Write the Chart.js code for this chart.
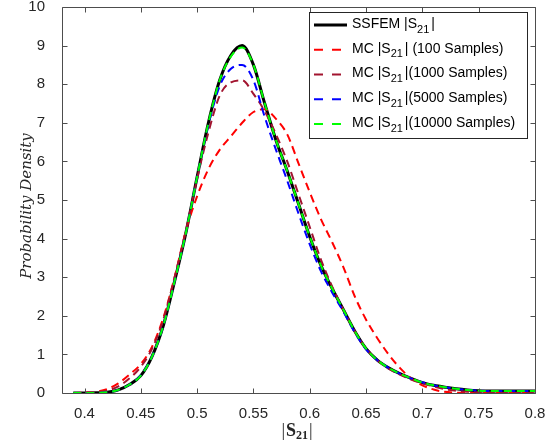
<!DOCTYPE html>
<html>
<head>
<meta charset="utf-8">
<script src="https://cdn.jsdelivr.net/npm/chart.js@4.4.1/dist/chart.umd.min.js"></script>
<style>
  html, body { margin: 0; padding: 0; background: #fff; }
  canvas { display: block; }
</style>
</head>
<body>
<canvas id="pdfChart" width="556" height="443"></canvas>
<script>
// |S21| sample points shared by every curve
const absS21 = [
  0.39, 0.40, 0.41, 0.42, 0.43, 0.44, 0.45, 0.46, 0.47, 0.48,
  0.49, 0.50, 0.51, 0.52, 0.53, 0.54, 0.55, 0.56, 0.57, 0.58,
  0.59, 0.60, 0.61, 0.62, 0.63, 0.64, 0.65, 0.66, 0.67, 0.68,
  0.69, 0.70, 0.71, 0.72, 0.73, 0.74, 0.75, 0.76, 0.77, 0.78,
  0.79, 0.80
];

const ssfem = [
  0, 0, 0.005, 0.02, 0.08, 0.22, 0.45, 0.95, 1.75, 2.9,
  4.15, 5.6, 7.0, 8.1, 8.75, 9.0, 8.5, 7.5, 6.55, 5.75,
  4.9, 4.05, 3.3, 2.7, 2.15, 1.6, 1.15, 0.85, 0.65, 0.5,
  0.38, 0.27, 0.2, 0.15, 0.11, 0.08, 0.06, 0.05, 0.05, 0.05,
  0.05, 0.05
];
const mc100 = [
  0, 0.01, 0.03, 0.1, 0.25, 0.48, 0.75, 1.2, 1.95, 3.0,
  4.2, 5.1, 5.8, 6.3, 6.65, 7.0, 7.28, 7.35, 7.1, 6.7,
  5.95, 5.2, 4.5, 3.9, 3.25, 2.5, 1.9, 1.42, 1.0, 0.65,
  0.38, 0.2, 0.09, 0.03, 0.01, 0.005, 0, 0, 0, 0,
  0, 0
];
const mc1000 = [
  0, 0.005, 0.02, 0.06, 0.17, 0.38, 0.68, 1.15, 1.9, 3.0,
  4.2, 5.55, 6.75, 7.7, 8.05, 8.1, 7.75, 7.3, 6.7, 6.0,
  5.15, 4.3, 3.45, 2.75, 2.15, 1.6, 1.15, 0.85, 0.63, 0.48,
  0.35, 0.25, 0.17, 0.1, 0.06, 0.03, 0.02, 0.01, 0, 0,
  0, 0
];
const mc5000 = [
  0, 0, 0.005, 0.02, 0.08, 0.22, 0.46, 0.95, 1.75, 2.9,
  4.15, 5.6, 6.95, 7.95, 8.4, 8.5, 8.1, 7.15, 6.3, 5.5,
  4.65, 3.85, 3.15, 2.6, 2.1, 1.57, 1.13, 0.85, 0.65, 0.5,
  0.38, 0.28, 0.2, 0.15, 0.11, 0.08, 0.06, 0.05, 0.05, 0.05,
  0.05, 0.05
];
const mc10000 = [
  0, 0, 0.005, 0.02, 0.08, 0.22, 0.45, 0.95, 1.75, 2.9,
  4.15, 5.6, 7.0, 8.1, 8.72, 8.95, 8.5, 7.5, 6.55, 5.75,
  4.9, 4.05, 3.3, 2.7, 2.15, 1.6, 1.15, 0.85, 0.65, 0.5,
  0.38, 0.27, 0.2, 0.15, 0.11, 0.08, 0.06, 0.05, 0.05, 0.05,
  0.05, 0.05
];

const seriesNames = [
  'SSFEM |S_{21}|',
  'MC |S_{21}| (100 Samples)',
  'MC |S_{21}|(1000 Samples)',
  'MC |S_{21}|(5000 Samples)',
  'MC |S_{21}|(10000 Samples)'
];
const xTicks = [0.4, 0.45, 0.5, 0.55, 0.6, 0.65, 0.7, 0.75, 0.8];
const yTicks = [0, 1, 2, 3, 4, 5, 6, 7, 8, 9, 10];

const axisColor = '#4d4d4d';
const textColor = '#262626';

function toPoints(ys) {
    return absS21.map((x, i) => ({ x: x, y: ys[i] }));
}

// draws text like "MC |S_{21}|" with a small lowered subscript
function drawSubText(ctx, str, x, y, size, family, weight) {
    const parts = str.split(/(_\{[^}]*\})/);
    let cx = x;
    parts.forEach(p => {
        if (!p) return;
        if (p.startsWith('_{')) {
            const sub = p.slice(2, -1);
            ctx.font = `${weight} ${Math.round(size * 0.75)}px ${family}`;
            ctx.fillText(sub, cx, y + size * 0.4);
            cx += ctx.measureText(sub).width + 2;
        } else {
            ctx.font = `${weight} ${size}px ${family}`;
            ctx.fillText(p, cx, y);
            cx += ctx.measureText(p).width;
        }
    });
}

const frameAndLegend = {
    id: 'frameAndLegend',
    afterDraw(chart) {
        const ctx = chart.ctx;
        const area = chart.chartArea;
        const xs = chart.scales.x;
        const ys = chart.scales.y;
        ctx.save();

        // box + inward ticks on all four sides
        ctx.strokeStyle = axisColor;
        ctx.lineWidth = 1;
        const L = Math.round(area.left) + 0.5, R = Math.round(area.right) + 0.5;
        const T = Math.round(area.top) + 0.5, B = Math.round(area.bottom) + 0.5;
        ctx.beginPath();
        ctx.rect(L, T, R - L, B - T);
        xTicks.forEach(v => {
            const px = Math.round(xs.getPixelForValue(v)) + 0.5;
            ctx.moveTo(px, B); ctx.lineTo(px, B - 5);
            ctx.moveTo(px, T); ctx.lineTo(px, T + 5);
        });
        yTicks.forEach(v => {
            const py = Math.round(ys.getPixelForValue(v)) + 0.5;
            ctx.moveTo(L, py); ctx.lineTo(L + 5, py);
            ctx.moveTo(R, py); ctx.lineTo(R - 5, py);
        });
        ctx.stroke();

        // axis titles
        ctx.fillStyle = textColor;
        ctx.textBaseline = 'middle';
        ctx.textAlign = 'left';
        const cxTitle = (area.left + area.right) / 2 - 17;
        const ty = 431;
        ctx.font = '18px "Liberation Serif"';
        ctx.fillText('|', cxTitle, ty);
        let off = cxTitle + ctx.measureText('|').width + 1;
        ctx.font = 'bold 18px "Liberation Serif"';
        ctx.fillText('S', off, ty);
        off += ctx.measureText('S').width;
        ctx.font = 'bold 12px "Liberation Serif"';
        ctx.fillText('21', off, ty + 5);
        off += ctx.measureText('21').width + 1;
        ctx.font = '18px "Liberation Serif"';
        ctx.fillText('|', off, ty);

        ctx.save();
        ctx.translate(27, 206);
        ctx.rotate(-Math.PI / 2);
        ctx.textAlign = 'center';
        ctx.font = 'italic 15px "DejaVu Serif"';
        ctx.fillText('Probability Density', 0, 0);
        ctx.restore();

        // legend box in the upper right corner
        const bx = 309.5, by = 12.5, bw = 218, bh = 126;
        ctx.fillStyle = '#ffffff';
        ctx.fillRect(bx, by, bw, bh);
        ctx.strokeStyle = '#262626';
        ctx.lineWidth = 1;
        ctx.strokeRect(bx, by, bw, bh);
        chart.data.datasets.forEach((ds, i) => {
            const rowY = 25 + i * 24.75;
            ctx.strokeStyle = ds.borderColor;
            ctx.lineWidth = ds.borderWidth;
            ctx.setLineDash(ds.borderDash.length ? [9, 9] : []);
            ctx.beginPath();
            ctx.moveTo(314, rowY);
            ctx.lineTo(ds.borderDash.length ? 341 : 347, rowY);
            ctx.stroke();
            ctx.setLineDash([]);
            ctx.fillStyle = '#000';
            ctx.textBaseline = 'middle';
            drawSubText(ctx, seriesNames[i], 352, rowY - 1, 14, '"Liberation Sans", Arial, sans-serif', 'normal');
        });
        ctx.restore();
    }
};

const styles = [
    { color: '#000000', width: 3, dash: [], order: 5 },
    { color: '#ff0000', width: 2, dash: [8, 5], order: 4 },
    { color: '#a2142f', width: 2, dash: [8, 5], order: 3 },
    { color: '#0000ff', width: 2, dash: [8, 5], order: 2 },
    { color: '#00ff00', width: 2, dash: [8, 5], order: 1 }
];
const seriesValues = [ssfem, mc100, mc1000, mc5000, mc10000];

const ctx = document.getElementById('pdfChart').getContext('2d');
new Chart(ctx, {
    type: 'line',
    data: {
        datasets: seriesValues.map((vals, i) => ({
            label: seriesNames[i],
            data: toPoints(vals),
            borderColor: styles[i].color,
            borderWidth: styles[i].width,
            borderDash: styles[i].dash,
            order: styles[i].order,
            pointRadius: 0,
            fill: false,
            cubicInterpolationMode: 'monotone'
        }))
    },
    options: {
        responsive: false,
        animation: false,
        layout: { padding: { left: 0, top: 7, right: 21, bottom: 0 } },
        plugins: {
            legend: { display: false },
            tooltip: { enabled: false }
        },
        scales: {
            x: {
                type: 'linear',
                min: 0.38,
                max: 0.8,
                afterBuildTicks: scale => { scale.ticks = xTicks.map(v => ({ value: v })); },
                afterFit: scale => {
                    scale.height = 50;
                    scale.paddingLeft = 0; scale.paddingRight = 0;
                },
                grid: { display: false },
                border: { display: false },
                ticks: {
                    padding: 4,
                    color: textColor,
                    font: { family: '"Liberation Sans", Arial, sans-serif', size: 15 },
                    maxRotation: 0,
                    callback: v => String(+v.toFixed(2))
                }
            },
            y: {
                min: 0,
                max: 10,
                afterBuildTicks: scale => { scale.ticks = yTicks.map(v => ({ value: v })); },
                afterFit: scale => {
                    scale.width = 62;
                    scale.paddingTop = 0; scale.paddingBottom = 0;
                },
                grid: { display: false },
                border: { display: false },
                ticks: {
                    padding: 9,
                    color: textColor,
                    font: { family: '"Liberation Sans", Arial, sans-serif', size: 15 }
                }
            }
        }
    },
    plugins: [frameAndLegend]
});
</script>
</body>
</html>
